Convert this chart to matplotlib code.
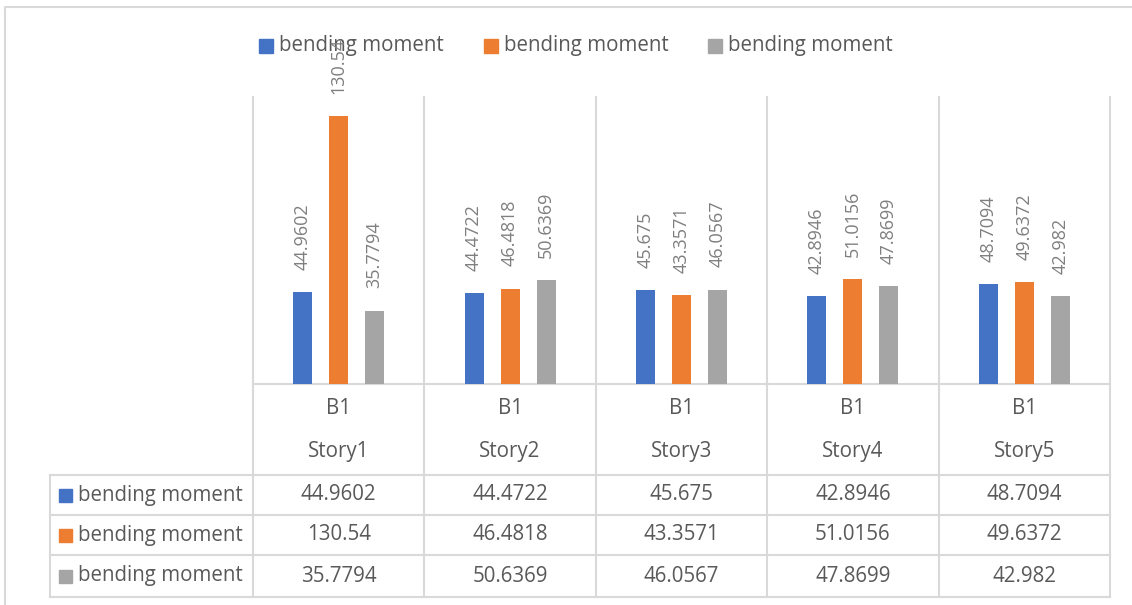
import numpy as np
import matplotlib
matplotlib.use("Agg")
from matplotlib import pyplot as plt
from matplotlib.patches import Rectangle

stories = ["Story1", "Story2", "Story3", "Story4", "Story5"]
member = ["B1", "B1", "B1", "B1", "B1"]
series_names = ["bending moment", "bending moment", "bending moment"]
s1 = [44.9602, 44.4722, 45.675, 42.8946, 48.7094]
s2 = [130.54, 46.4818, 43.3571, 51.0156, 49.6372]
s3 = [35.7794, 50.6369, 46.0567, 47.8699, 42.982]
colors = ["#4472C4", "#ED7D31", "#A5A5A5"]

W, H = 1132, 605
txt = "#595959"
grid = "#d9d9d9"
fs = 14.8
plt.rcParams["font.family"] = ["Open Sans", "DejaVu Sans"]

fig = plt.figure(figsize=(W / 100, H / 100), dpi=100)

# plot area in pixels
px_l, px_r, px_t, px_b = 253, 1110, 97, 384
ax = fig.add_axes([px_l / W, 1 - px_b / H, (px_r - px_l) / W, (px_b - px_t) / H])
x = np.arange(len(stories))
bw = 0.11
step = 0.21
for k, (vals, c) in enumerate(zip([s1, s2, s3], colors)):
    xs = x + (k - 1) * step
    ax.bar(xs, vals, width=bw, color=c, zorder=3)
    for xi, v in zip(xs, vals):
        ax.annotate(f"{v:g}", (xi, v), xytext=(0, 16), textcoords="offset points",
                    rotation=90, ha="center", va="bottom", color="#7f7f7f",
                    fontsize=13, annotation_clip=False, zorder=4)
ax.set_xlim(-0.5, len(stories) - 0.5)
ax.set_ylim(0, 140)
ax.axis("off")

# overlay in pixel coordinates for frame, table and legend
ov = fig.add_axes([0, 0, 1, 1], zorder=-1)
ov.set_xlim(0, W)
ov.set_ylim(H, 0)
ov.axis("off")
ov.plot([5, 5, W + 5], [H + 5, 7, 7], color=grid, lw=1.5)

cw = (px_r - px_l) / len(stories)
edges = [px_l + i * cw for i in range(len(stories) + 1)]
for e in edges:
    ov.plot([e, e], [px_t, 597], color=grid, lw=1.5)
ov.plot([px_l, px_r], [px_b, px_b], color=grid, lw=1.5)
rows = [475, 515, 555, 597]
for r in rows:
    ov.plot([50, px_r], [r, r], color=grid, lw=1.5)
ov.plot([50, 50], [475, 597], color=grid, lw=1.5)

for i in range(len(stories)):
    cx = px_l + (i + 0.5) * cw
    ov.text(cx, 408, member[i], ha="center", va="center", color=txt, fontsize=fs)
    ov.text(cx, 452, stories[i], ha="center", va="center", color=txt, fontsize=fs)
    for j, vals in enumerate([s1, s2, s3]):
        ov.text(cx, (rows[j] + rows[j + 1]) / 2, f"{vals[i]:g}", ha="center",
                va="center", color=txt, fontsize=fs)

for j in range(3):
    cy = (rows[j] + rows[j + 1]) / 2
    ov.add_patch(Rectangle((59, cy - 6), 13, 13, color=colors[j]))
    ov.text(78, cy, series_names[j], ha="left", va="center", color=txt, fontsize=fs)

# legend
for j, lx in enumerate([259, 484, 708]):
    ov.add_patch(Rectangle((lx, 39), 14, 14, color=colors[j]))
    ov.text(lx + 20, 45, series_names[j], ha="left", va="center", color=txt, fontsize=fs)

fig.savefig("out.png", dpi=100)
